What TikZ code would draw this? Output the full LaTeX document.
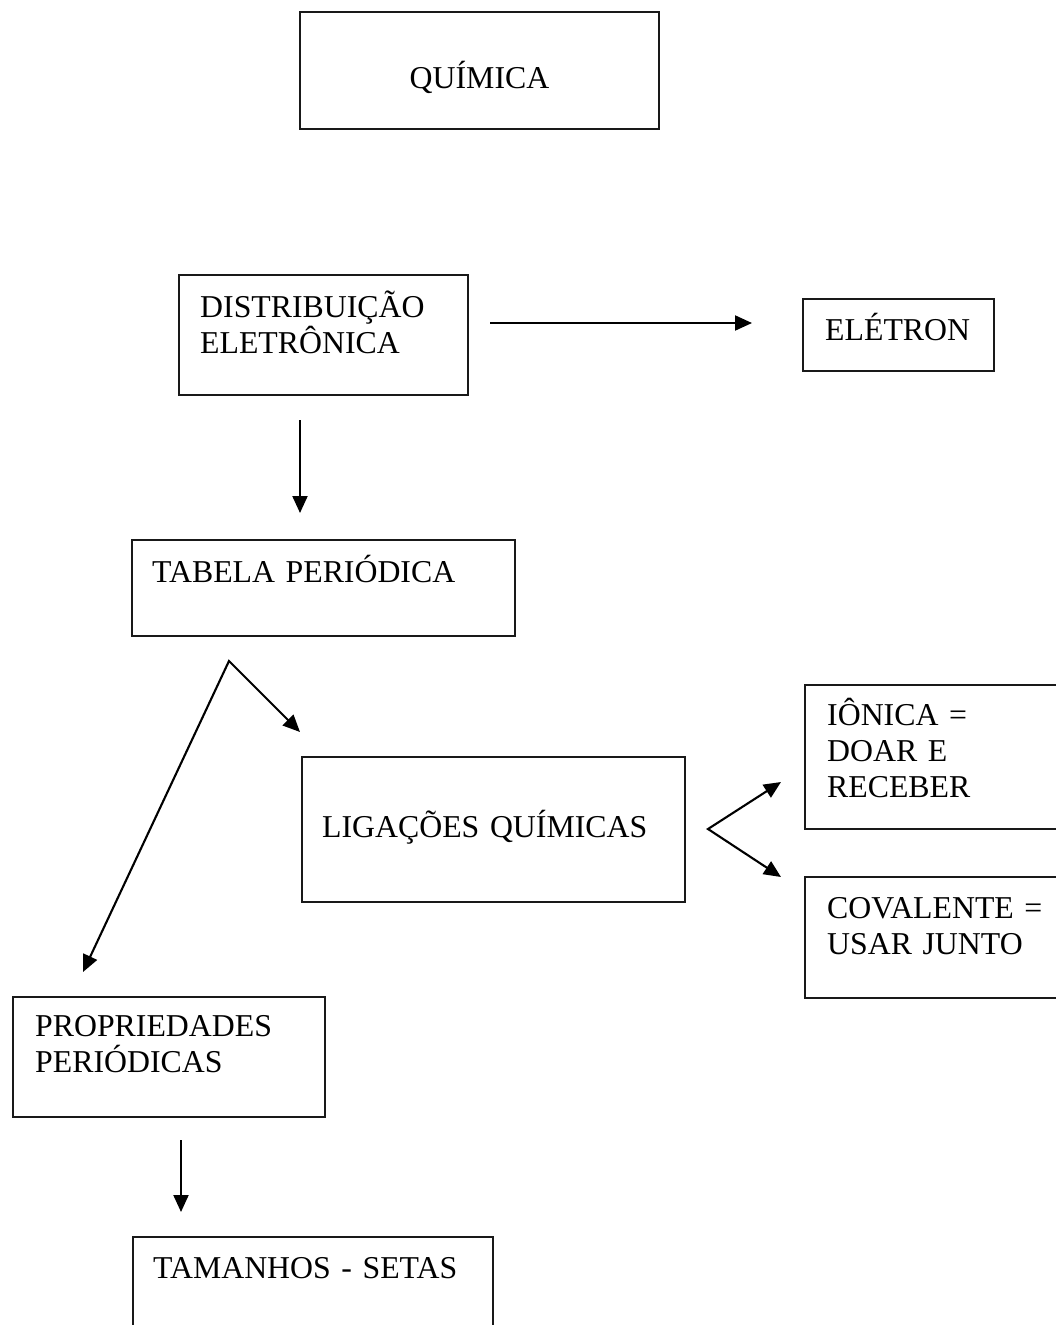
\documentclass[tikz,border=0pt]{standalone}
\usepackage{fontspec}
\setmainfont{Liberation Serif}
\usepackage{tikz}
\usetikzlibrary{arrows.meta,positioning,calc}
\tikzset{
  caixa/.style={draw=black!90, line width=1.9pt, rectangle, inner sep=0pt, outer sep=0pt, anchor=north west},
  rotulo/.style={anchor=base west, inner sep=0pt, align=left, text width=#1, font=\fontsize{31.8}{36}\selectfont},
  rotulo/.default=330pt,
  seta/.style={-{Triangle[length=17pt,width=15pt]}, line width=2.1pt},
  garfo/.style={{Triangle[length=17pt,width=15pt]}-{Triangle[length=17pt,width=15pt]}, line width=2.1pt, line join=miter}
}

\begin{document}
\begin{tikzpicture}[x=1pt,y=-1pt]
  \clip (0,0) rectangle (1056,1325);

  % Caixas
  \node[caixa, minimum width=359pt, minimum height=117pt] (quimica) at (300,12) {};
  \node[caixa, minimum width=289pt, minimum height=120pt] (dist) at (179,275) {};
  \node[caixa, minimum width=191pt, minimum height=72pt] (eletron) at (803,299) {};
  \node[caixa, minimum width=383pt, minimum height=96pt] (tabela) at (132,540) {};
  \node[caixa, minimum width=383pt, minimum height=145pt] (ligacoes) at (302,757) {};
  \node[caixa, minimum width=300pt, minimum height=144pt] (ionica) at (805,685) {};
  \node[caixa, minimum width=300pt, minimum height=121pt] (covalente) at (805,877) {};
  \node[caixa, minimum width=312pt, minimum height=120pt] (propriedades) at (13,997) {};
  \node[caixa, minimum width=360pt, minimum height=150pt] (tamanhos) at (133,1237) {};

  % Textos
  \node[rotulo, anchor=base, text width=, align=center] (quimica-t) at ([yshift=-76pt]quimica.north) {QUÍMICA};
  \node[rotulo] (dist-t) at ([shift={(21,42)}]dist.north west) {DISTRIBUIÇÃO\\ELETRÔNICA};
  \node[rotulo] (eletron-t) at ([shift={(22,41)}]eletron.north west) {ELÉTRON};
  \node[rotulo] (tabela-t) at ([shift={(20,42)}]tabela.north west) {TABELA PERIÓDICA};
  \node[rotulo] (ligacoes-t) at ([shift={(20,80)}]ligacoes.north west) {LIGAÇÕES QUÍMICAS};
  \node[rotulo] (ionica-t) at ([shift={(22,40)}]ionica.north west) {IÔNICA =\\DOAR E\\RECEBER};
  \node[rotulo] (covalente-t) at ([shift={(22,41)}]covalente.north west) {COVALENTE =\\USAR JUNTO};
  \node[rotulo] (propriedades-t) at ([shift={(22,39)}]propriedades.north west) {PROPRIEDADES\\PERIÓDICAS};
  \node[rotulo] (tamanhos-t) at ([shift={(20,41)}]tamanhos.north west) {TAMANHOS - SETAS};

  % Pontas das setas
  \coordinate (dist-e) at (490,323);
  \coordinate (eletron-w) at (752,323);
  \coordinate (dist-s) at (300,420);
  \coordinate (tabela-n) at (300,513);
  \coordinate (tabela-s) at (229,661);
  \coordinate (ligacoes-nw) at (300,732);
  \coordinate (propriedades-n) at (83,972);
  \coordinate (ligacoes-e) at (708,829);
  \coordinate (ionica-w) at (781,782);
  \coordinate (covalente-w) at (781,877);
  \coordinate (propriedades-s) at (181,1140);
  \coordinate (tamanhos-n) at (181,1212);

  % Setas
  \draw[seta] (dist-e) -- (eletron-w);
  \draw[seta] (dist-s) -- (tabela-n);
  \draw[garfo] (propriedades-n) -- (tabela-s) -- (ligacoes-nw);
  \draw[garfo] (ionica-w) -- (ligacoes-e) -- (covalente-w);
  \draw[seta] (propriedades-s) -- (tamanhos-n);
\end{tikzpicture}
\end{document}
